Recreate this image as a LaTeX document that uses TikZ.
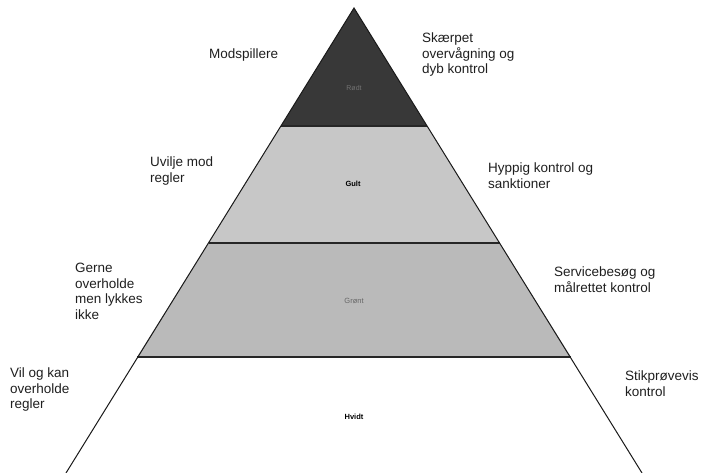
\documentclass[tikz,border=0pt]{standalone}
\usepackage{fontspec}
\setmainfont{Liberation Sans}
\begin{document}
\begin{tikzpicture}[x=1pt,y=-1pt,
  lbl/.style={anchor=north west, inner sep=0pt, align=left, font=\fontsize{13.5}{15.5}\selectfont, text=black!88},
  bandlbl/.style={inner sep=0pt, font=\fontsize{7.5}{9}\selectfont\bfseries},
  side/.style={line width=1pt, black!90},
  divider/.style={line width=1.2pt, black!85}]
\useasboundingbox (0,0) rectangle (701,473);
% pyramid geometry
\coordinate (A) at (354,8);
\coordinate (L1) at (281,126);
\coordinate (R1) at (427,126);
\coordinate (L2) at (208.5,243);
\coordinate (R2) at (499.5,243);
\coordinate (L3) at (137,357);
\coordinate (R3) at (571,357);
\coordinate (L4) at (66,473);
\coordinate (R4) at (642,473);
% bands
\fill[black!78] (A) -- (R1) -- (L1) -- cycle;
\fill[black!22] (L1) -- (R1) -- (R2) -- (L2) -- cycle;
\fill[black!27] (L2) -- (R2) -- (R3) -- (L3) -- cycle;
\draw[divider] (L1) -- (R1);
\draw[divider] (L2) -- (R2);
\draw[divider] (L3) -- (R3);
\draw[side] (L4) -- (A) -- (R4);
% band labels
\node[bandlbl, text=black!55, font=\fontsize{7}{8}\selectfont] (rod) at (354,88) {Rødt};
\node[bandlbl] (gul) at (353,184) {Gult};
\node[bandlbl, text=black!60, font=\fontsize{7.5}{9}\selectfont] (gron) at (354,301) {Grønt};
\node[bandlbl] (hvid) at (354,417) {Hvidt};
% side labels
\node[lbl, anchor=base west] (mod) at (209,59) {Modspillere};
\node[lbl] (skaerp) at (422,33) {Skærpet\\overvågning og\\dyb kontrol};
\node[lbl] (uvil) at (150,157) {Uvilje mod\\regler};
\node[lbl] (hypp) at (488,163) {Hyppig kontrol og\\sanktioner};
\node[lbl] (gerne) at (75,263) {Gerne\\overholde\\men lykkes\\ikke};
\node[lbl] (serv) at (554,267) {Servicebesøg og\\målrettet kontrol};
\node[lbl] (vil) at (10,368) {Vil og kan\\overholde\\regler};
\node[lbl] (stik) at (625,371) {Stikprøvevis\\kontrol};
\end{tikzpicture}
\end{document}
